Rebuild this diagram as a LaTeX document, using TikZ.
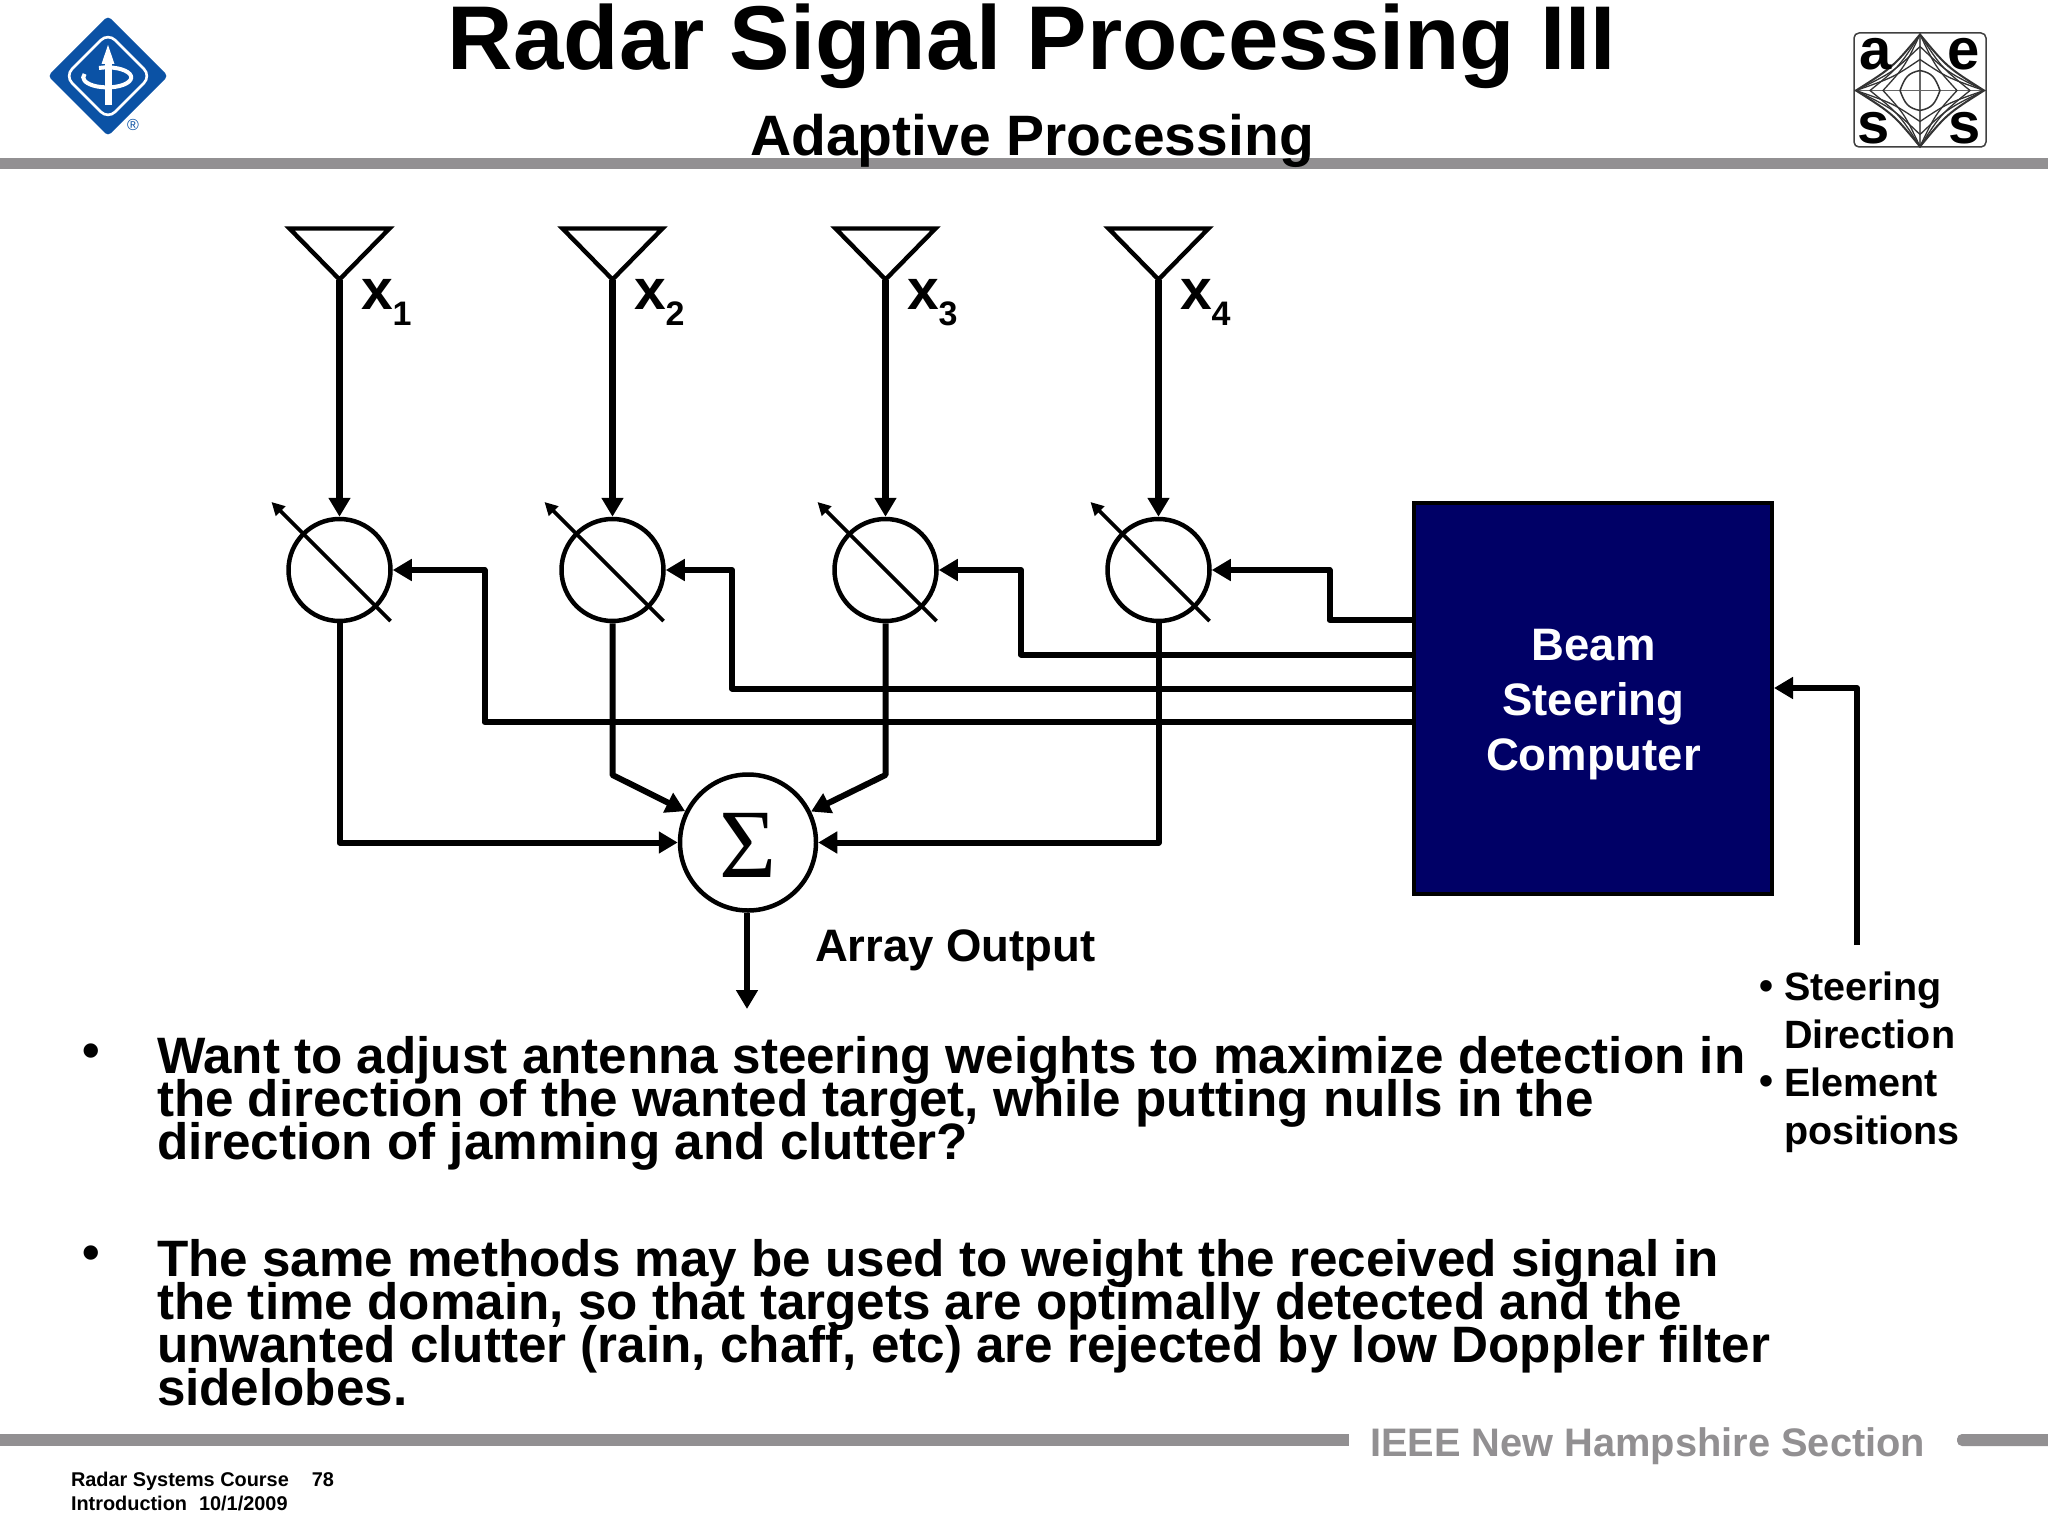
\documentclass[tikz,border=0pt]{standalone}
\usepackage{fontspec}
\setmainfont{Liberation Sans}
\newfontfamily\symf{Liberation Serif}
\usetikzlibrary{arrows.meta,calc}
\definecolor{barg}{HTML}{929092}
\definecolor{navyb}{HTML}{000066}
\definecolor{ieeeb}{HTML}{0B52A5}
\newcommand{\fs}[1]{\fontsize{#1}{#1}\selectfont\bfseries}
\newcommand{\xlab}[1]{x\raisebox{-15.5pt}{\fontsize{34}{34}\selectfont\bfseries #1}}
\lineskiplimit=-100pt
\tikzset{
  x=1pt,y=-1pt,
  txt/.style={anchor=base west,inner sep=0,outer sep=0,align=left,execute at begin node={\lineskiplimit=-100pt\relax}},
  wire/.style={line width=6pt,line join=round},
  arr/.style={wire,-{Triangle[length=19pt,width=21pt]}},
  stem/.style={line width=6.4pt,-{Triangle[length=19pt,width=21pt]}},
  ant/.style={line width=4.4pt,line join=miter},
  ps/.style={circle,draw,line width=4.5pt,minimum size=102pt,inner sep=0},
  sumn/.style={circle,draw,line width=4.5pt,minimum size=136pt,inner sep=0,font=\symf\fontsize{98}{98}\selectfont},
  tune/.style={line width=3.8pt,-{Triangle[length=13pt,width=13pt]}},
  bar/.style={fill=barg,draw=none},
  aessl/.style={line width=1.3pt,black!80},
  body/.style={txt,font=\fontsize{51.2}{43}\selectfont\bfseries},
}
\begin{document}
\begin{tikzpicture}
\useasboundingbox (0,0) rectangle (2048,1536);
\fill[white] (0,0) rectangle (2048,1536);
% bars
\fill[bar] (0,158) rectangle (2048,169);
\fill[bar] (0,1434) rectangle (1349,1446);
\fill[bar,rounded corners=5pt] (1957,1434) rectangle (2060,1446);
% titles
\node[anchor=base,inner sep=0] (title) at (1032,70) {\fs{90.6}Radar Signal Processing III};
\node[anchor=base,inner sep=0] (sub) at (1032,155.5) {\fs{57}Adaptive Processing};
% IEEE logo
\fill[ieeeb,rounded corners=4pt] (108,16) -- (168,76) -- (108,136) -- (48,76) -- cycle;
\draw[white,line width=2.6pt,rounded corners=10pt] (108,33) -- (151,76) -- (108,119) -- (65,76) -- cycle;
\fill[white] (104.5,105) rectangle (111.5,62);
\fill[white] (108,45) -- (114.5,64) -- (101.5,64) -- cycle;
\draw[white,line width=4pt] (99,68) arc[start angle=110,end angle=-200,x radius=24pt,y radius=10pt];
\node[inner sep=0,text=ieeeb] (reg) at (133,125) {\fontsize{16}{16}\selectfont ®};
% AESS logo
\draw[line width=1.5pt,black!75,rounded corners=5pt,fill=white] (1854,33) rectangle (1986,147);
\draw[aessl,black!60,line width=1.5pt] (1856,90.5) -- (1984,90.5) (1920,35) -- (1920,147);
\foreach \a/\b/\lw in {64/56/2,50/56/1.3,37/56/1.3,64/44/1.3,64/31/1.3}{
  \draw[aessl,line width=\lw pt,line join=miter] ({1920-\a},90.5) .. controls ({1920-.42*\a},{90.5-.42*\b}) .. ({1920},{90.5-\b})
   .. controls ({1920+.42*\a},{90.5-.42*\b}) .. ({1920+\a},90.5)
   .. controls ({1920+.42*\a},{90.5+.42*\b}) .. ({1920},{90.5+\b})
   .. controls ({1920-.42*\a},{90.5+.42*\b}) .. ({1920-\a},90.5) -- cycle;
}
\draw[aessl,line width=1.5pt] (1900,90.5) .. controls (1905,77) and (1908,73) .. (1920,70.5) .. controls (1932,73) and (1935,77) .. (1940,90.5) .. controls (1935,104) and (1932,108) .. (1920,110.5) .. controls (1908,108) and (1905,104) .. (1900,90.5);
\node[inner sep=0,anchor=base] (la) at (1876,70) {\fs{58}a};
\node[inner sep=0,anchor=base] (le) at (1964,70) {\fs{58}e};
\node[inner sep=0,anchor=base] (ls) at (1874,143) {\fs{58}s};
\node[inner sep=0,anchor=base] (lr) at (1965,143) {\fs{58}s};
% box and junctions
\node[draw=black,fill=navyb,line width=4pt,minimum width=358pt,minimum height=391pt,inner sep=0,anchor=north west] (box) at (1412,500.5) {};
\node[inner sep=0,text=white,anchor=base] (bt1) at (1593.5,660.5) {\fs{45.5}Beam};
\node[inner sep=0,text=white,anchor=base] (bt2) at (1593.5,715.5) {\fs{45.5}Steering};
\node[inner sep=0,text=white,anchor=base] (bt3) at (1593.5,770.5) {\fs{45.5}Computer};
\node[sumn] (sum) at (748,842.5) {\raisebox{-35pt}[0pt][0pt]{Σ}};
\foreach \i/\x/\j/\fy in {1/339.5/484.5/722,2/612.5/732/688.5,3/885.5/1021/654.5,4/1158.5/1329.5/620}{
  \node[ps] (p\i) at (\x,570) {};
  \coordinate (apex\i) at (\x,279.5);
  \coordinate (tl\i) at ({\x-50},228.5);
  \coordinate (tr\i) at ({\x+50},228.5);
  \draw[ant] (tl\i) -- (tr\i) -- (apex\i) -- cycle;
  \draw[stem] (apex\i) -- (p\i);
  \coordinate (ts\i) at ({\x+51},621);
  \coordinate (te\i) at ({\x-68},502);
  \draw[tune] (ts\i) -- (te\i);
  \coordinate (s\i) at (1413,\fy);
  \coordinate (j\i) at (\j,570);
  \draw[arr] (s\i) -| (j\i) -- (p\i);
}
\node[txt] (x1) at (361,309.5) {\fs{57}\xlab{1}};
\node[txt] (x2) at (634,309.5) {\fs{57}\xlab{2}};
\node[txt] (x3) at (907,309.5) {\fs{57}\xlab{3}};
\node[txt] (x4) at (1180,309.5) {\fs{57}\xlab{4}};
% to sum
\coordinate (c1) at (339.5,842.5);
\coordinate (c2) at (612.5,775);
\coordinate (c3) at (885.5,775);
\coordinate (c4) at (1158.5,842.5);
\draw[arr] (p1) -- (c1) -- (sum);
\draw[arr] (p4) -- (c4) -- (sum);
\draw[arr] (p2) -- (c2) -- (sum);
\draw[arr] (p3) -- (c3) -- (sum);
\coordinate (out) at (747,1009);
\draw[arr] (sum.south -| out) -- (out);
\node[txt] (ao) at (815,961) {\fs{45.5}Array Output};
% steering input
\coordinate (st) at (1857,945);
\coordinate (stb) at (1857,688);
\draw[arr] (st) -- (stb) -- (stb -| box.east);
\node[txt,font=\fontsize{39.5}{48}\selectfont\bfseries] (sd) at (1784,1144) {Steering\\Direction\\Element\\positions};
\node[inner sep=0] (bs1) at (1766,990) {\fs{40}•};
\node[inner sep=0] (bs2) at (1766,1085) {\fs{40}•};
% body text
\node[inner sep=0] (b1) at (91,1055.5) {\fs{50}•};
\node[inner sep=0] (b2) at (91,1257.5) {\fs{50}•};
\node[body] (t1) at (157,1159.5) {Want to adjust antenna steering weights to maximize detection in\\the direction of the wanted target, while putting nulls in the\\direction of jamming and clutter?};
\node[body] (t2) at (157,1405.5) {The same methods may be used to weight the received signal in\\the time domain, so that targets are optimally detected and the\\unwanted clutter (rain, chaff, etc) are rejected by low Doppler filter\\sidelobes.};
% footer
\node[txt,font=\fontsize{19.9}{24}\selectfont\bfseries] (foot) at (71,1510) {Radar Systems Course\hspace{23pt}78\\Introduction\hspace{12pt}10/1/2009};
\node[txt,text=barg] (sec) at (1370,1456) {\fs{39.8}IEEE New Hampshire Section};
\end{tikzpicture}
\end{document}
